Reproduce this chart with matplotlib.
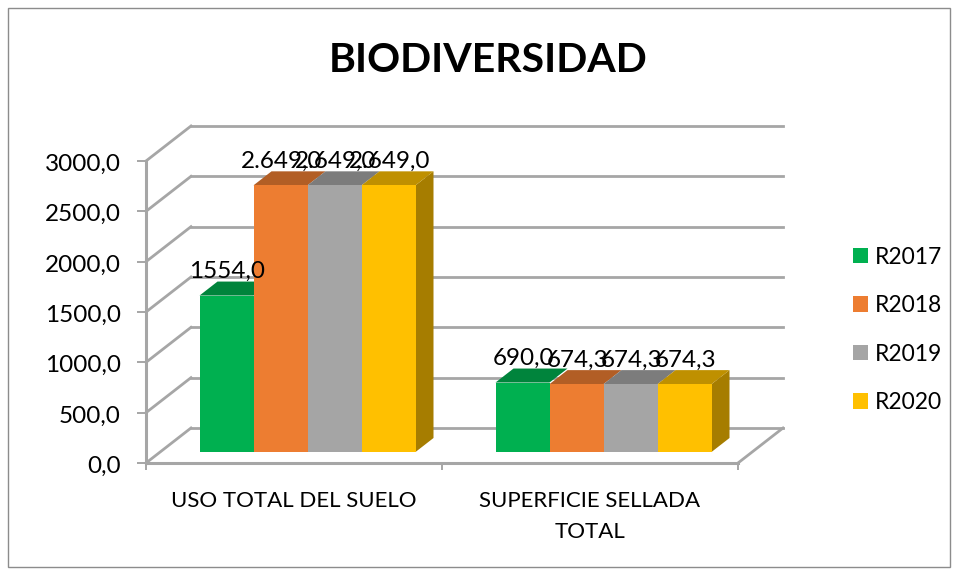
import matplotlib
matplotlib.use('Agg')
import matplotlib.pyplot as plt
from matplotlib.patches import Patch, Polygon, Rectangle
from matplotlib.transforms import ScaledTranslation

plt.rcParams['font.family'] = ['Lato', 'DejaVu Sans']

# Data
categories = ['USO TOTAL DEL SUELO', 'SUPERFICIE SELLADA\nTOTAL']
series_names = ['R2017', 'R2018', 'R2019', 'R2020']
r2017 = [1554.0, 690.0]
r2018 = [2649.0, 674.3]
r2019 = [2649.0, 674.3]
r2020 = [2649.0, 674.3]
labels_2017 = ['1554,0', '690,0']
labels_2018 = ['2.649,0', '674,3']
labels_2019 = ['2.649,0', '674,3']
labels_2020 = ['2.649,0', '674,3']
yticks = [0, 500, 1000, 1500, 2000, 2500, 3000]
ytick_labels = ['0,0', '500,0', '1000,0', '1500,0', '2000,0', '2500,0', '3000,0']

front_colors = ['#00B050', '#ED7D31', '#A5A5A5', '#FFC000']
top_colors = ['#00843C', '#B25E25', '#7C7C7C', '#BF9000']
side_colors = ['#008540', '#B25E25', '#7C7C7C', '#A67D00']
grid_color = '#A6A6A6'

W, H = 960, 572
fig = plt.figure(figsize=(W / 100, H / 100), dpi=100)
fig.patch.set_facecolor('white')

# axes rectangle is the front plane of the 3D box, in pixels
left, right, bottom, top = 146, 738, 463, 161
ax = fig.add_axes([left / W, 1 - bottom / H, (right - left) / W, (bottom - top) / H])
ax.set_xlim(0, 2)
ax.set_ylim(0, 3000)
ax.patch.set_alpha(0)
for s in ax.spines.values():
    s.set_visible(False)

# pixel size in data units, for the fake depth
px_x = 2 / (right - left)
px_y = 3000 / (bottom - top)
depth_x, depth_y = 45 * px_x, 35 * px_y  # floor depth
shift_x, shift_y = 13.5 * px_x, 11 * px_y  # bars stand a bit behind the front
bar_dx, bar_dy = 18 * px_x, 14 * px_y  # bar depth

# walls
for t in yticks:
    ax.plot([0, depth_x], [t, t + depth_y], color=grid_color, lw=2, clip_on=False, zorder=1)
    ax.plot([depth_x, 2 + depth_x], [t + depth_y, t + depth_y], color=grid_color, lw=2,
            clip_on=False, zorder=1)
ax.plot([2, 2 + depth_x], [0, depth_y], color=grid_color, lw=2, clip_on=False, zorder=1)

# front axis lines and ticks
ax.plot([0, 0], [0, 3000], color=grid_color, lw=2.2, clip_on=False, zorder=2)
ax.plot([0, 2], [0, 0], color=grid_color, lw=2.2, clip_on=False, zorder=2)
ax.set_xticks([0, 1, 2])
ax.set_xticklabels([])
ax.set_yticks(yticks)
ax.set_yticklabels(ytick_labels, fontsize=17.5)
ax.tick_params(axis='y', length=6.5, width=1.4, color=grid_color, pad=11.5)
ax.tick_params(axis='x', length=5, width=1.4, color=grid_color)
for lab in ax.get_yticklabels():
    lab.set_transform(lab.get_transform() + ScaledTranslation(0, -1.5 / 100, fig.dpi_scale_trans))

# category labels
ax.text(0.5, -38 * px_y, categories[0], ha='center', va='center', fontsize=16, linespacing=1.7)
ax.text(1.5, -28 * px_y, categories[1], ha='center', va='top', fontsize=16, linespacing=1.7)

# bars
values = [r2017, r2018, r2019, r2020]
labels = [labels_2017, labels_2018, labels_2019, labels_2020]
bar_w = 54 * px_x
for j in range(2):
    start = j + 0.5 - 2 * bar_w + shift_x
    for i in range(4):
        v = values[i][j]
        x0 = start + i * bar_w
        x1 = x0 + bar_w
        ax.bar(x0, v, width=bar_w, bottom=shift_y, align='edge', color=front_colors[i],
               clip_on=False, zorder=5)
        yt = shift_y + v
        ax.add_patch(Polygon([(x0, yt), (x1, yt), (x1 + bar_dx, yt + bar_dy), (x0 + bar_dx, yt + bar_dy)],
                             closed=True, facecolor=top_colors[i], edgecolor='none',
                             clip_on=False, zorder=4 + i * 0.1))
        if i == 3:
            ax.add_patch(Polygon([(x1, shift_y), (x1 + bar_dx, shift_y + bar_dy),
                                  (x1 + bar_dx, yt + bar_dy), (x1, yt)],
                                 closed=True, facecolor=side_colors[i], edgecolor='none',
                                 clip_on=False, zorder=4))

# data labels go on after all bars so they overlap like the original
for j in range(2):
    start = j + 0.5 - 2 * bar_w + shift_x
    for i in range(4):
        x_mid = start + (i + 0.5) * bar_w
        ax.text(x_mid + px_x, shift_y + values[i][j] + 24 * px_y, labels[i][j], ha='center', va='center',
                fontsize=17.5, color='black', zorder=10, clip_on=False)

fig.text(488 / W, 1 - 61 / H, 'BIODIVERSIDAD', ha='center', va='center', fontsize=29.5, fontweight='bold')

handles = [Patch(facecolor=c, edgecolor='none') for c in front_colors]
fig.legend(handles, series_names, loc='center left', bbox_to_anchor=(832 / W, 1 - 330 / H),
           frameon=False, fontsize=16.5, handlelength=0.66, handleheight=0.66, handletextpad=0.3,
           labelspacing=1.2)

# chart border
fig.add_artist(Rectangle((8 / W, 1 - 567 / H), 942 / W, 559 / H, transform=fig.transFigure,
                         facecolor='none', edgecolor='#8C8C8C', lw=1))

fig.savefig('out.png', dpi=100)
